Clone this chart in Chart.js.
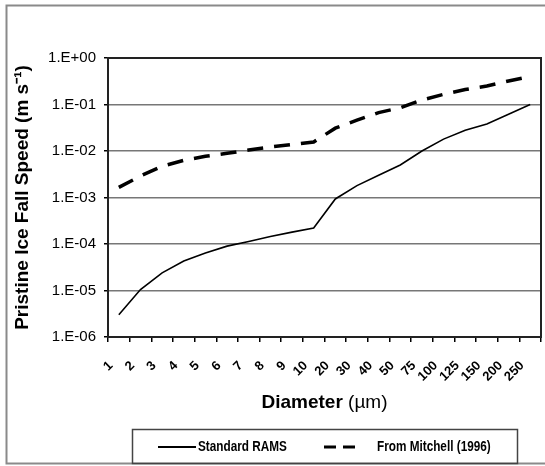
<!DOCTYPE html>
<html>
<head>
<meta charset="utf-8">
<script src="https://cdn.jsdelivr.net/npm/chart.js@4.4.0/dist/chart.umd.min.js"></script>
<style>
  html, body { margin: 0; padding: 0; background: #fff; }
  #fallSpeed { display: block; }
</style>
</head>
<body>
<canvas id="fallSpeed" width="545" height="466"></canvas>
<script>
// diameters (um) along the x axis
const diameters = ['1', '2', '3', '4', '5', '6', '7', '8', '9', '10',
  '20', '30', '40', '50', '75', '100', '125', '150', '200', '250']

// fall speed, m/s
const ramsSpeed = [3.0e-6, 1.05e-5, 2.4e-5, 4.3e-5, 6.4e-5, 9.0e-5, 1.13e-4, 1.45e-4, 1.8e-4, 2.2e-4,
  9.3e-4, 1.8e-3, 3.0e-3, 5.0e-3, 1.0e-2, 1.8e-2, 2.8e-2, 3.8e-2, 6.2e-2, 1.0e-1]
const mitchellSpeed = [1.65e-3, 2.9e-3, 4.7e-3, 6.3e-3, 7.7e-3, 8.9e-3, 1.05e-2, 1.22e-2, 1.38e-2, 1.56e-2,
  3.1e-2, 4.6e-2, 6.7e-2, 8.5e-2, 0.125, 0.165, 0.21, 0.25, 0.32, 0.40]

const yTickValues = [1e-6, 1e-5, 1e-4, 1e-3, 1e-2, 1e-1, 1]
const yTickLabels = ['1.E-06', '1.E-05', '1.E-04', '1.E-03', '1.E-02', '1.E-01', '1.E+00']

const seriesNames = ['Standard RAMS', 'From Mitchell (1996)']
const yTitle = 'Pristine Ice Fall Speed (m s\u207B\u00B9)'
const xTitleBold = 'Diameter'
const xTitleUnit = '(\u00B5m)'

const FONT = "'Liberation Sans', Arial, sans-serif"

const tickLabel = (v) => {
  const i = yTickValues.findIndex(t => Math.abs(Math.log10(t) - Math.log10(v)) < 1e-6)
  return i < 0 ? '' : yTickLabels[i]
}

// white page, outer frame, and the box round the plot area
const framePlugin = {
  id: 'frame',
  beforeDraw(chart) {
    const {ctx} = chart
    ctx.save()
    ctx.fillStyle = '#fff'
    ctx.fillRect(0, 0, chart.width, chart.height)
    ctx.strokeStyle = '#8a8a8a'
    ctx.lineWidth = 2
    ctx.strokeRect(6.5, 5.5, chart.width + 10, 458)
    ctx.restore()
  },
  afterDraw(chart) {
    const {ctx, chartArea: a} = chart
    ctx.save()
    ctx.strokeStyle = '#222'
    ctx.lineWidth = 2
    ctx.strokeRect(a.left, a.top, a.right - a.left, a.bottom - a.top)
    ctx.restore()
  }
}

// x title with mixed weights, and the boxed legend
const textPlugin = {
  id: 'texts',
  afterDraw(chart) {
    const {ctx, chartArea: a} = chart
    ctx.save()
    ctx.fillStyle = '#000'
    ctx.textBaseline = 'middle'
    ctx.textAlign = 'left'
    const boldFont = `bold 19px ${FONT}`
    const plainFont = `19px ${FONT}`
    ctx.font = boldFont
    const w1 = ctx.measureText(xTitleBold + ' ').width
    ctx.font = plainFont
    const w2 = ctx.measureText(xTitleUnit).width
    const x0 = (a.left + a.right) / 2 - (w1 + w2) / 2
    ctx.font = boldFont
    ctx.fillText(xTitleBold + ' ', x0, 403)
    ctx.font = plainFont
    ctx.fillText(xTitleUnit, x0 + w1, 403)

    // legend
    ctx.strokeStyle = '#444'
    ctx.lineWidth = 1.5
    ctx.strokeRect(132.5, 429.5, 385, 34)
    const ly = 447
    const items = [{x: 158, w: 38, tx: 198}, {x: 324, w: 34, tx: 377}]
    chart.data.datasets.forEach((ds, i) => {
      const it = items[i]
      ctx.beginPath()
      ctx.strokeStyle = '#000'
      ctx.lineWidth = i === 0 ? 2 : 3
      ctx.setLineDash(i === 0 ? [] : [12, 7])
      ctx.moveTo(it.x, ly)
      ctx.lineTo(it.x + it.w, ly)
      ctx.stroke()
      ctx.setLineDash([])
      // narrow bold look
      ctx.save()
      ctx.translate(it.tx, ly)
      ctx.scale(0.84, 1)
      ctx.font = `bold 14px ${FONT}`
      ctx.fillText(ds.label, 0, 0)
      ctx.restore()
    })
    ctx.restore()
  }
}

const ctxCanvas = document.getElementById('fallSpeed').getContext('2d')
const fallChart = new Chart(ctxCanvas, {
  type: 'line',
  data: {
    labels: diameters,
    datasets: [
      {label: seriesNames[0], data: ramsSpeed, borderColor: '#000', borderWidth: 1.6, pointRadius: 0, tension: 0},
      {label: seriesNames[1], data: mitchellSpeed, borderColor: '#000', borderWidth: 3.5, borderDash: [16, 11], pointRadius: 0, tension: 0}
    ]
  },
  options: {
    responsive: false,
    animation: false,
    devicePixelRatio: 1,
    layout: {padding: {top: 58, right: 4, left: 0, bottom: 0}},
    plugins: {legend: {display: false}, tooltip: {enabled: false}},
    scales: {
      x: {
        type: 'category',
        offset: true,
        grid: {offset: true, drawOnChartArea: false, drawTicks: true, tickLength: 5, tickColor: '#000', lineWidth: 1.5},
        border: {display: true, color: '#222', width: 2},
        ticks: {
          autoSkip: false, minRotation: 45, maxRotation: 45, labelOffset: -8, padding: 16,
          color: '#000', font: {family: FONT, size: 13, weight: 'bold'}
        },
        afterFit: s => {
          s.height = 129
          s.paddingLeft = 0
          s.paddingRight = 0
        }
      },
      y: {
        type: 'logarithmic',
        min: 1e-6,
        max: 1,
        afterBuildTicks: s => { s.ticks = yTickValues.map(v => ({value: v, major: true})) },
        grid: {color: '#777', lineWidth: 1.5, tickColor: '#000', tickLength: 4},
        border: {display: true, color: '#222', width: 2},
        ticks: {callback: v => tickLabel(v), padding: 8, color: '#000', font: {family: FONT, size: 15}},
        title: {
          display: true, text: yTitle, color: '#000',
          font: {family: FONT, size: 19, weight: 'bold'}, padding: {top: 11, bottom: 0}
        },
        afterFit: s => {
          s.width = 108
          s.paddingTop = 0
          s.paddingBottom = 0
        }
      }
    }
  },
  plugins: [framePlugin, textPlugin]
})
</script>
</body>
</html>
